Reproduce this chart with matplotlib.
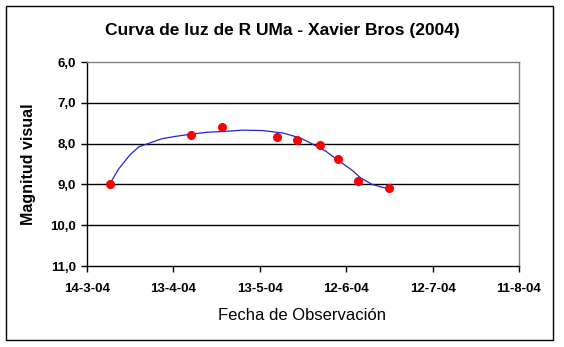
import matplotlib
matplotlib.use("Agg")
import matplotlib.pyplot as plt
import matplotlib.dates as mdates
from matplotlib.patches import Rectangle
import datetime as dt

plt.rcParams['font.family'] = ['Liberation Sans', 'DejaVu Sans']

# Observations
dates = ["2004-03-22", "2004-04-19", "2004-04-30", "2004-05-19", "2004-05-26",
         "2004-06-03", "2004-06-09", "2004-06-16", "2004-06-27"]
magnitudes = [8.98, 7.78, 7.60, 7.83, 7.91, 8.04, 8.38, 8.91, 9.10]

# Trend line
trend_dates = ["2004-03-22", "2004-03-25", "2004-03-29", "2004-04-01", "2004-04-05",
               "2004-04-09", "2004-04-14", "2004-04-19", "2004-04-25", "2004-05-01",
               "2004-05-07", "2004-05-14", "2004-05-21", "2004-05-27", "2004-05-31",
               "2004-06-05", "2004-06-09", "2004-06-14", "2004-06-17", "2004-06-21",
               "2004-06-25", "2004-06-27"]
trend_mag = [8.98, 8.62, 8.27, 8.08, 7.98, 7.88, 7.82, 7.77, 7.72, 7.70,
             7.67, 7.68, 7.74, 7.86, 8.00, 8.19, 8.40, 8.65, 8.84, 9.00,
             9.08, 9.10]

x_tick_dates = ["2004-03-14", "2004-04-13", "2004-05-13", "2004-06-12", "2004-07-12", "2004-08-11"]
x_tick_labels = ["14-3-04", "13-4-04", "13-5-04", "12-6-04", "12-7-04", "11-8-04"]
y_ticks = [6, 7, 8, 9, 10, 11]
y_tick_labels = ["6,0", "7,0", "8,0", "9,0", "10,0", "11,0"]


def to_num(lst):
    return [mdates.date2num(dt.datetime.fromisoformat(s)) for s in lst]


d = to_num(dates)
td = to_num(trend_dates)
xt = to_num(x_tick_dates)

fig = plt.figure(figsize=(5.64, 3.47), dpi=100)
fig.patches.append(Rectangle((6/564, 1-340/347), (553-6)/564, (340-6)/347,
                             transform=fig.transFigure, fill=False,
                             edgecolor='black', linewidth=1.0))
ax = fig.add_axes([87/564, 1-266/347, (519-87)/564, (266-62)/347])

ax.plot(td, trend_mag, color='#2323d8', linewidth=0.9, zorder=3)
ax.plot(d, magnitudes, 'o', color='#ff0000', markersize=5.5, zorder=4)

ax.set_xlim(xt[0], xt[-1])
ax.set_ylim(11, 6)
ax.set_xticks(xt)
ax.set_xticklabels(x_tick_labels, fontsize=9.5, fontweight='bold')
ax.set_yticks(y_ticks)
ax.set_yticklabels(y_tick_labels, fontsize=9.5, fontweight='bold')
for yv in y_ticks[1:-1]:
    ax.axhline(yv, color='black', linewidth=1.0, zorder=1)

ax.spines['top'].set_color('#808080')
ax.spines['right'].set_color('#808080')
for s in ax.spines.values():
    s.set_linewidth(1.0)
ax.tick_params(axis='both', direction='out', length=4, width=1, pad=4)
ax.tick_params(axis='x', pad=8)

fig.text(302/564, 1-316/347, "Fecha de Observación", fontsize=12,
         ha='center', va='center')
fig.text(28/564, 1-164/347, "Magnitud visual", fontsize=11.5, fontweight='bold',
         ha='center', va='center', rotation=90)
fig.text(282/564, 1-30/347, "Curva de luz de R UMa - Xavier Bros (2004)",
         ha='center', va='center', fontsize=12.5, fontweight='bold')

fig.savefig("out.png", dpi=100)
